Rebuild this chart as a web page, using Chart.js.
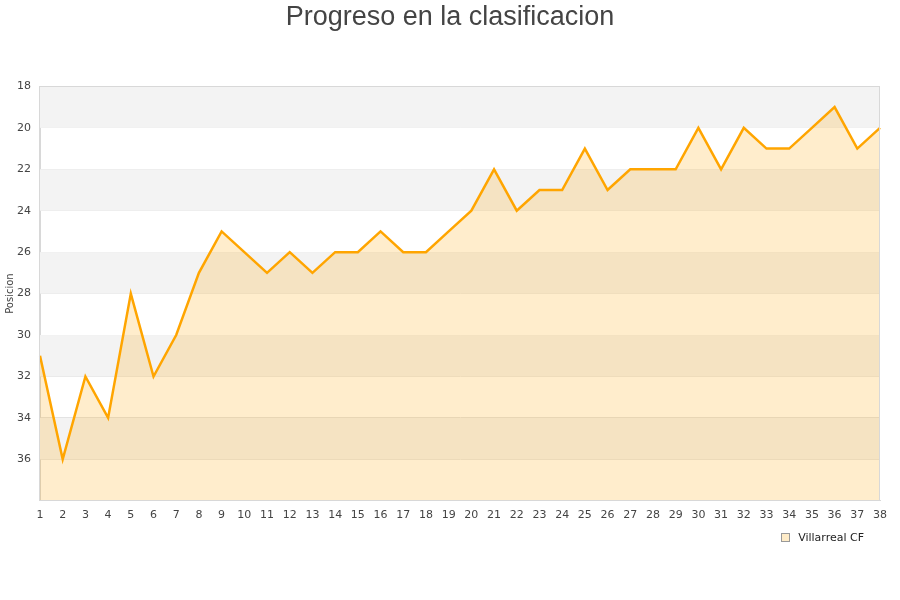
<!DOCTYPE html>
<html>
<head>
<meta charset="utf-8">
<script src="https://cdn.jsdelivr.net/npm/chart.js@4"></script>
<style>
  html, body { margin: 0; padding: 0; background: #fff; }
  #wrap { width: 900px; height: 600px; position: relative; }
  #leyenda { position: absolute; right: 36px; top: 531px; font: 11px "DejaVu Sans"; color: #222;
             display: flex; align-items: center; }
  #leyenda span.caja { width: 7px; height: 7px; border: 1px solid #999; background: #ffecc8;
                       margin-right: 8px; display: inline-block; }
</style>
</head>
<body>
<div id="wrap">
  <canvas id="chart"></canvas>
  <div id="leyenda"><span class="caja"></span><span id="leyenda-texto"></span></div>
</div>
<script>
// jornadas y posiciones
const jornadas = [];
for (let i = 1; i <= 38; i++) jornadas.push(String(i));
const posiciones = [31, 36, 32, 34, 28, 32, 30, 27, 25, 26, 27, 26, 27, 26, 26, 25, 26, 26, 25, 24,
                    22, 24, 23, 23, 21, 23, 22, 22, 22, 20, 22, 20, 21, 21, 20, 19, 21, 20];
const equipo = 'Villarreal CF';
const yMin = 18, yMax = 38, yStep = 2;

document.getElementById('leyenda-texto').textContent = equipo;

// bandas alternas de fondo
const bandas = {
    id: 'bandas',
    beforeDatasetsDraw(chart) {
        const {ctx, chartArea, scales: {y}} = chart;
        ctx.save();
        for (let v = yMin, i = 0; v < yMax; v += yStep, i++) {
            if (i % 2 !== 0) continue;
            const top = y.getPixelForValue(v);
            const bottom = y.getPixelForValue(v + yStep);
            ctx.fillStyle = '#f3f3f3';
            ctx.fillRect(chartArea.left, top, chartArea.right - chartArea.left, bottom - top);
        }
        ctx.restore();
    }
};

// borde completo del area de dibujo
const borde = {
    id: 'borde',
    afterDraw(chart) {
        const {ctx, chartArea} = chart;
        ctx.save();
        ctx.strokeStyle = '#d8d8d8';
        ctx.lineWidth = 1;
        ctx.strokeRect(Math.round(chartArea.left) - 0.5, Math.round(chartArea.top) + 0.5,
            Math.round(chartArea.right - chartArea.left), Math.round(chartArea.bottom - chartArea.top));
        ctx.restore();
    }
};

const ctx = document.getElementById('chart').getContext('2d');
new Chart(ctx, {
    type: 'line',
    data: {
        labels: jornadas,
        datasets: [{
            label: equipo,
            data: posiciones,
            borderColor: '#ffa500',
            backgroundColor: 'rgba(255,165,0,0.2)',
            borderWidth: 2.5,
            pointRadius: 0,
            tension: 0,
            fill: {value: yMax}
        }]
    },
    options: {
        responsive: true,
        maintainAspectRatio: false,
        animation: false,
        layout: { padding: {left: 0, right: 0, top: 1, bottom: 70} },
        plugins: {
            title: {
                display: true,
                text: 'Progreso en la clasificacion',
                color: '#444',
                font: {family: 'Liberation Sans', size: 27, weight: 'normal'},
                padding: {top: 0, bottom: 53}
            },
            legend: {display: false},
            tooltip: {enabled: false}
        },
        scales: {
            x: {
                grid: {display: false, drawTicks: false},
                border: {color: '#d8d8d8'},
                ticks: {
                    autoSkip: false,
                    maxRotation: 0,
                    color: '#444',
                    font: {family: 'DejaVu Sans', size: 11},
                    padding: 8
                }
            },
            y: {
                reverse: true,
                min: yMin,
                max: yMax,
                grid: {color: '#e2e2e2', drawTicks: false},
                border: {color: '#d8d8d8'},
                afterFit(scale) { scale.width = 40; },
                title: {
                    display: true,
                    text: 'Posicion',
                    color: '#444',
                    font: {family: 'DejaVu Sans', size: 10},
                    padding: {top: 4, bottom: 0}
                },
                ticks: {
                    stepSize: yStep,
                    color: '#444',
                    font: {family: 'DejaVu Sans', size: 11},
                    padding: 9,
                    callback: v => v === yMax ? '' : v
                }
            },
            margenDer: {
                position: 'right',
                grid: {display: false, drawTicks: false},
                border: {display: false},
                ticks: {display: false},
                afterFit(scale) { scale.width = 20; }
            }
        }
    },
    plugins: [bandas, borde]
});
</script>
</body>
</html>
